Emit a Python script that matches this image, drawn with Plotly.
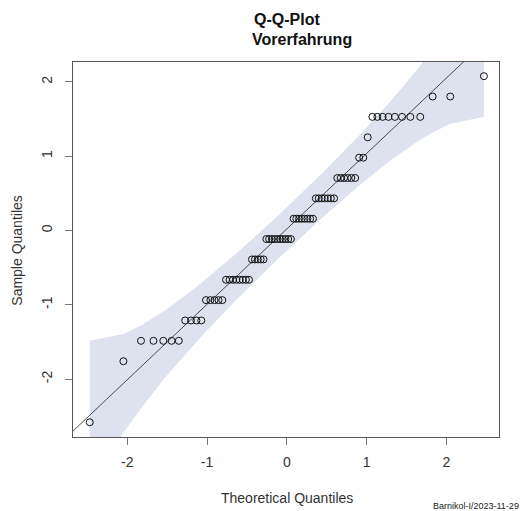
import numpy as np
import plotly.graph_objects as go
from statistics import NormalDist

# ---- data (standardised sample values, grouped) ----
sample_levels = [-2.582, -1.760, -1.485, -1.211, -0.937, -0.663, -0.389, -0.115,
                 0.159, 0.433, 0.707, 0.981, 1.255, 1.530, 1.804, 2.078]
level_counts = [1, 1, 5, 4, 5, 8, 5, 10, 8, 7, 6, 2, 1, 8, 2, 1]
x_ticks = [-2, -1, 0, 1, 2]
y_ticks = [-2, -1, 0, 1, 2]
title_line1 = "Q-Q-Plot"
title_line2 = "Vorerfahrung"
x_title = "Theoretical Quantiles"
y_title = "Sample Quantiles"
footer = "Barnikol-I/2023-11-29"

# ---- Q-Q computation ----
sample = np.repeat(sample_levels, level_counts).astype(float)
sample.sort()
n = len(sample)
nd = NormalDist()
P = (np.arange(1, n + 1) - 0.5) / n
z = np.array([nd.inv_cdf(p) for p in P])

q1, q3 = np.quantile(sample, [0.25, 0.75])
zq1, zq3 = nd.inv_cdf(0.25), nd.inv_cdf(0.75)
slope = (q3 - q1) / (zq3 - zq1)
intercept = q1 - slope * zq1

dens = np.array([nd.pdf(v) for v in z])
se = (slope / dens) * np.sqrt(P * (1 - P) / n)
fit = intercept + slope * z
crit = nd.inv_cdf(0.975)
upper = fit + crit * se
lower = fit - crit * se

# ---- geometry ----
W, H = 522, 511
L, R, T, B = 73.3, 22.7, 61.7, 73.7
pw, ph = W - L - R, H - T - B

def px(x):
    return (x - L) / pw

def py(y):
    return (H - B - y) / ph

fig = go.Figure()
fig.add_trace(go.Scatter(
    x=list(z) + list(z[::-1]), y=list(upper) + list(lower[::-1]),
    fill="toself", fillcolor="#dde2ee", line=dict(width=0),
    mode="lines", hoverinfo="skip", showlegend=False))
xl = np.array([-3.5, 3.5])
fig.add_trace(go.Scatter(
    x=xl, y=intercept + slope * xl, mode="lines",
    line=dict(color="#222222", width=0.8), showlegend=False))
fig.add_trace(go.Scatter(
    x=z, y=sample, mode="markers",
    marker=dict(symbol="circle-open", size=7, color="#111111",
                line=dict(width=1, color="#111111")),
    showlegend=False))

axis_common = dict(showgrid=False, zeroline=False, showline=True, mirror=True,
                   linecolor="#555555", linewidth=1, ticks="outside", ticklen=7,
                   tickcolor="#777777", tickwidth=1,
                   tickfont=dict(family="Liberation Sans, Arial", size=14, color="#333333"))

fig.update_layout(
    width=W, height=H,
    margin=dict(l=L, r=R, t=T, b=B),
    paper_bgcolor="white", plot_bgcolor="white",
    xaxis=dict(range=[-2.680, 2.659], tickvals=x_ticks,
               ticktext=[str(v) for v in x_ticks], ticklabelstandoff=5, **axis_common),
    yaxis=dict(range=[-2.780, 2.269], tickvals=y_ticks,
               ticktext=[str(v) for v in y_ticks], tickangle=-90,
               ticklabelstandoff=7, **axis_common),
    font=dict(family="Liberation Sans, Arial", color="#333333"),
    annotations=[
        dict(text="<b>" + title_line1 + "</b>", xref="paper", yref="paper",
             x=px(287.5), y=py(19), xanchor="center", yanchor="middle",
             showarrow=False, font=dict(size=16, color="#111111")),
        dict(text="<b>" + title_line2 + "</b>", xref="paper", yref="paper",
             x=px(302), y=py(39), xanchor="center", yanchor="middle",
             showarrow=False, font=dict(size=16, color="#111111")),
        dict(text=x_title, xref="paper", yref="paper",
             x=px(287), y=py(498), xanchor="center", yanchor="middle",
             showarrow=False, font=dict(size=14, color="#333333")),
        dict(text=y_title, xref="paper", yref="paper",
             x=px(17), y=py(250), xanchor="center", yanchor="middle",
             textangle=-90, showarrow=False, font=dict(size=14, color="#333333")),
        dict(text=footer, xref="paper", yref="paper",
             x=px(476), y=py(506), xanchor="center", yanchor="middle",
             showarrow=False, font=dict(size=9, color="#222222")),
    ],
)

fig.write_html("out.html")
